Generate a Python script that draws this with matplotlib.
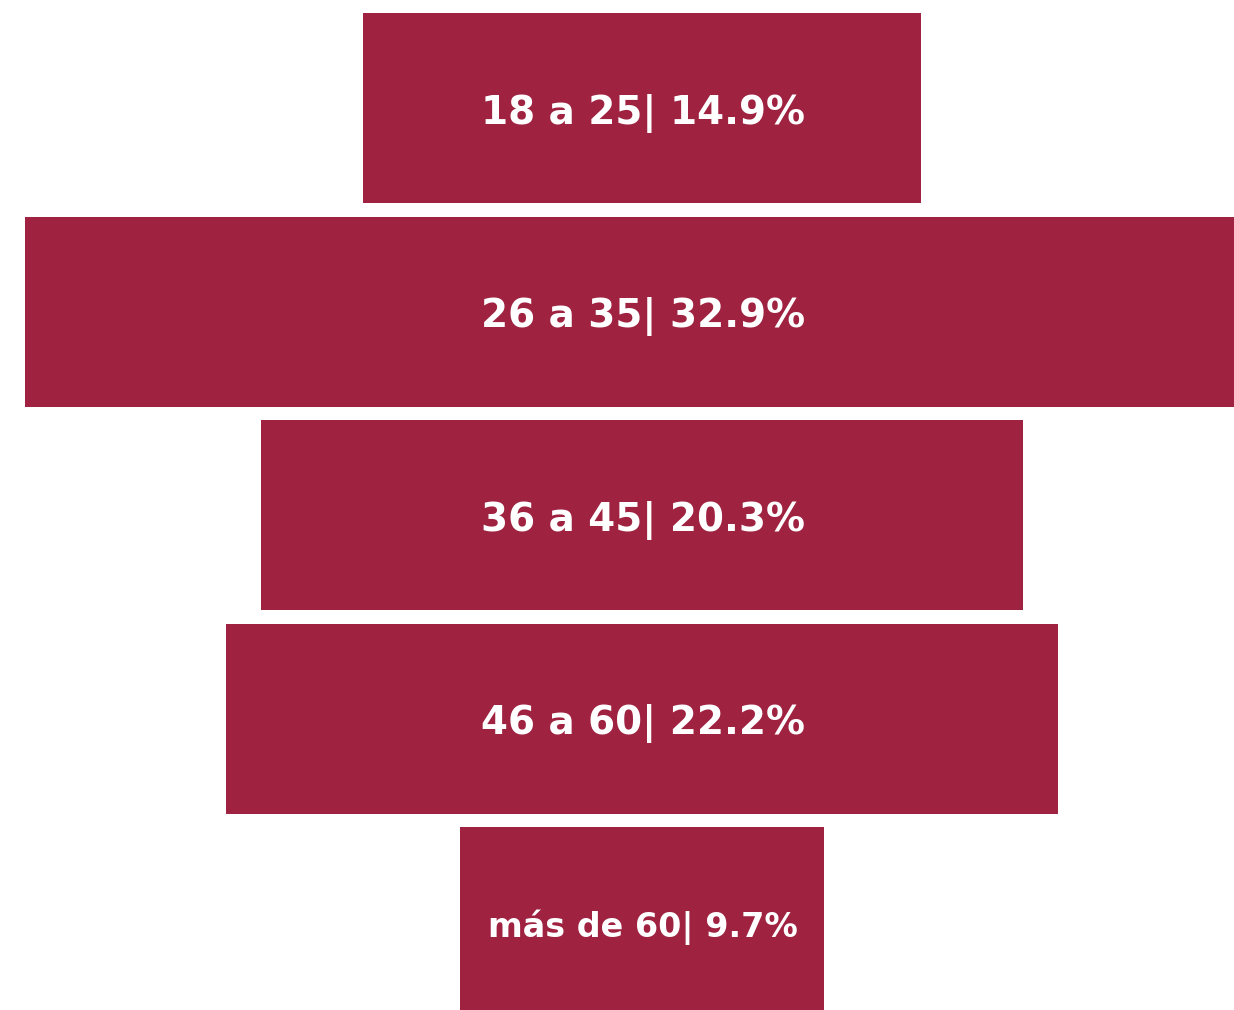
import matplotlib
matplotlib.use("Agg")
import matplotlib.pyplot as plt

# funnel data
groups = ["18 a 25", "26 a 35", "36 a 45", "46 a 60", "más de 60"]
shares = [14.9, 32.9, 20.3, 22.2, 9.7]
label_sizes = [28, 28, 28, 28, 24]

bar_color = "#9F2241"

fig = plt.figure(figsize=(12.34, 10.10), dpi=100)
ax = fig.add_axes([0, 0, 1, 1])

for i, (g, v) in enumerate(zip(groups, shares)):
    ax.barh(i, v, left=-v / 2, height=0.934, color=bar_color)
    ax.text(0.02, i + 0.025, f"{g}| {v}%", ha="center", va="center",
            color="white", fontsize=label_sizes[i], fontweight="bold",
            family="DejaVu Sans")

ax.set_xlim(-17.12, 15.79)
ax.set_ylim(4.432, -0.531)
ax.axis("off")

fig.savefig("out.png", dpi=100)
